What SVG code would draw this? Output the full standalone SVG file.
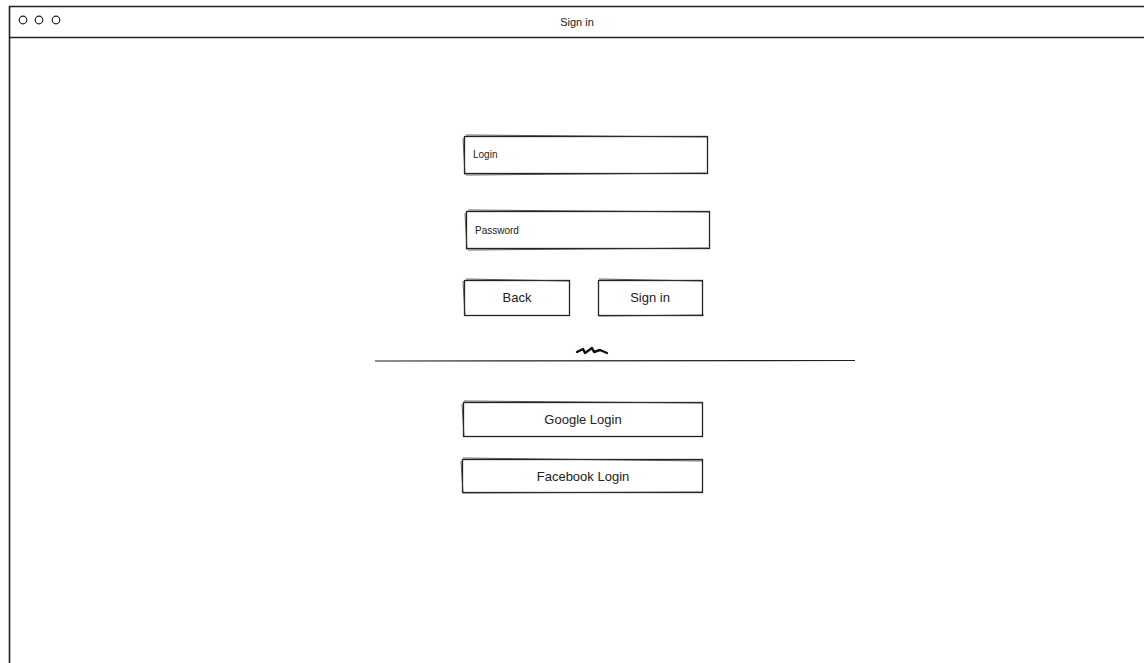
<svg xmlns="http://www.w3.org/2000/svg" width="1144" height="663" viewBox="0 0 1144 663">
<style>
.box{fill:#fff;stroke:#222;stroke-width:1.3}
.sk{fill:none;stroke:#333;stroke-width:0.8}
.t{font-family:"Liberation Sans",Arial,sans-serif;fill:#222}
.lbl{font-size:13px;text-anchor:middle}
.in{font-size:10px}
</style>
<rect width="1144" height="663" fill="#fff"/>
<g id="window">
<path d="M9.5 663 L9.5 6.5 L1144 6.5" fill="none" stroke="#222" stroke-width="1.6"/>
<path d="M9.5 37.5 L1144 37.5" stroke="#222" stroke-width="1.4"/>
<circle cx="23" cy="20" r="3.8" fill="none" stroke="#222" stroke-width="1.2"/>
<circle cx="39" cy="20" r="3.8" fill="none" stroke="#222" stroke-width="1.2"/>
<circle cx="56" cy="20" r="3.8" fill="none" stroke="#222" stroke-width="1.2"/>
<text class="t" x="577" y="26" font-size="11" text-anchor="middle">Sign in</text>
</g>
<g id="login">
<rect class="box" x="464.5" y="136.5" width="243" height="37"/>
<path class="sk" d="M466 135 L708 137 M463 138 L465 175 M466 175 L706 173"/>
<text class="t in" x="473" y="158">Login</text>
</g>
<g id="password">
<rect class="box" x="466.5" y="211.5" width="243" height="37"/>
<path class="sk" d="M468 210 L709 212 M465 213 L467 250 M468 250 L708 248"/>
<text class="t in" x="475" y="234">Password</text>
</g>
<g id="back">
<rect class="box" x="464.5" y="280.5" width="105" height="35"/>
<path class="sk" d="M466 279 L569 281 M463 281 L465 316"/>
<text class="t lbl" x="517" y="302">Back</text>
</g>
<g id="signin">
<rect class="box" x="598.5" y="280.5" width="104" height="35"/>
<path class="sk" d="M599 279 L702 281 M599 316 L704 315"/>
<text class="t lbl" x="650" y="302">Sign in</text>
</g>
<g id="divider">
<path d="M375 361 L855 360.5" stroke="#222" stroke-width="1.2"/>
<path d="M577 352 L583 349 L585 353 L592 348 L594 352 L600 350 L607 353" fill="none" stroke="#111" stroke-width="2.4" stroke-linecap="round" stroke-linejoin="round"/>
</g>
<g id="google">
<rect class="box" x="463.5" y="402.5" width="239" height="34"/>
<path class="sk" d="M464 401 L703 403 M462 404 L464 437"/>
<text class="t lbl" x="583" y="424">Google Login</text>
</g>
<g id="facebook">
<rect class="box" x="462.5" y="459.5" width="240" height="33"/>
<path class="sk" d="M463 458 L702 461 M461 461 L463 493 M463 493 L702 492"/>
<text class="t lbl" x="583" y="481">Facebook Login</text>
</g>
</svg>
